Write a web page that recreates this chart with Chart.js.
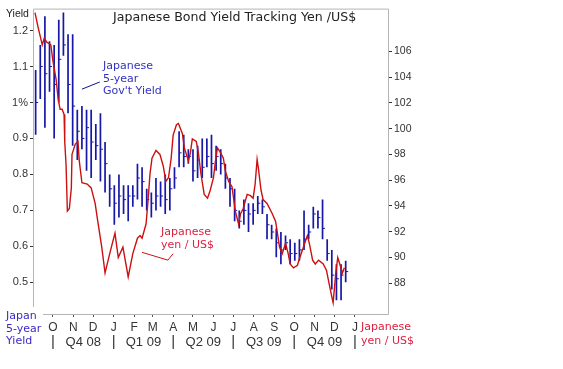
<!DOCTYPE html>
<html>
<head>
<meta charset="utf-8">
<script src="https://cdn.jsdelivr.net/npm/chart.js@4.4.1/dist/chart.umd.min.js"></script>
<style>
html,body{margin:0;padding:0;background:#fff;}
#wrap{width:563px;height:369px;position:relative;}
</style>
</head>
<body>
<div id="wrap"><canvas id="c" width="563" height="369"></canvas></div>
<script>
// ---------- DATA ----------
const weekDates = ['2008-09-05','2008-09-12','2008-09-19','2008-09-26','2008-10-03','2008-10-10','2008-10-17','2008-10-24','2008-10-31','2008-11-07','2008-11-14','2008-11-21','2008-11-28','2008-12-05','2008-12-12','2008-12-19','2008-12-26',
'2009-01-02','2009-01-09','2009-01-16','2009-01-23','2009-01-30','2009-02-06','2009-02-13','2009-02-20','2009-02-27','2009-03-06','2009-03-13','2009-03-20','2009-03-27','2009-04-03','2009-04-10','2009-04-17','2009-04-24',
'2009-05-01','2009-05-08','2009-05-15','2009-05-22','2009-05-29','2009-06-05','2009-06-12','2009-06-19','2009-06-26','2009-07-03','2009-07-10','2009-07-17','2009-07-24','2009-07-31','2009-08-07','2009-08-14','2009-08-21','2009-08-28',
'2009-09-04','2009-09-11','2009-09-18','2009-09-25','2009-10-02','2009-10-09','2009-10-16','2009-10-23','2009-10-30','2009-11-06','2009-11-13','2009-11-20','2009-11-27','2009-12-04','2009-12-11','2009-12-18'];
const yieldHigh = [1.09,1.16,1.24,1.17,1.16,1.23,1.25,1.19,1.19,0.98,0.99,0.98,0.98,0.94,0.97,0.89,0.80,
0.77,0.80,0.77,0.77,0.77,0.83,0.82,0.76,0.75,0.79,0.78,0.80,0.79,0.82,0.92,0.91,0.87,
0.87,0.88,0.90,0.90,0.91,0.88,0.87,0.83,0.79,0.76,0.70,0.73,0.72,0.72,0.74,0.73,0.69,0.66,
0.65,0.64,0.63,0.62,0.61,0.62,0.70,0.66,0.71,0.70,0.73,0.62,0.59,0.55,0.55,0.56];
const yieldLow = [0.91,1.01,0.93,1.03,0.90,1.00,1.13,0.97,0.88,0.84,0.87,0.81,0.79,0.84,0.78,0.75,0.71,
0.66,0.68,0.69,0.67,0.71,0.73,0.71,0.70,0.68,0.70,0.71,0.69,0.70,0.76,0.82,0.82,0.83,
0.78,0.79,0.79,0.82,0.79,0.81,0.80,0.76,0.71,0.67,0.65,0.66,0.64,0.66,0.69,0.69,0.62,0.62,
0.57,0.55,0.59,0.55,0.56,0.56,0.59,0.62,0.65,0.65,0.62,0.56,0.48,0.45,0.45,0.50];
const yieldClose = [1.00,1.10,1.08,1.10,1.05,1.12,1.16,1.05,0.99,0.92,0.90,0.93,0.89,0.88,0.87,0.83,0.76,
0.72,0.74,0.73,0.74,0.74,0.79,0.78,0.73,0.72,0.74,0.74,0.73,0.76,0.79,0.86,0.85,0.85,
0.81,0.84,0.82,0.85,0.83,0.85,0.83,0.79,0.76,0.70,0.67,0.70,0.69,0.70,0.72,0.71,0.66,0.64,
0.61,0.59,0.61,0.58,0.58,0.59,0.62,0.64,0.69,0.68,0.65,0.58,0.52,0.51,0.52,0.53];
// yen/US$ line: day offset from 2008-09-01 and value
const yenDay = [3,8,14,17,21,27,30,35,38,41,44,47,48,50,52,55,58,59,64,68,
70,74,82,88,94,98,104,109,117,124,129,136,144,151,158,162,165,171,174,177,
180,186,192,197,201,205,209,212,217,220,226,229,235,238,241,247,250,254,259,264,
268,273,276,279,283,288,291,296,301,306,311,314,318,324,329,333,336,339,341,345,
348,354,362,367,370,373,377,382,386,389,394,400,403,409,415,418,423,427,432,439,
444,447,451,454,458,461,464,468,471];
const yenValue = [109.0,107.8,106.5,107.0,106.7,106.5,105.3,103.8,102.3,101.5,101.5,101.1,99.0,97.2,93.6,93.8,95.4,98.0,98.8,99.0,
97.5,95.8,95.7,95.4,94.2,92.8,90.8,88.8,90.5,91.9,90.0,90.8,88.5,90.3,91.5,91.7,91.5,92.6,94.4,96.5,
97.7,98.3,98.0,97.1,95.9,96.2,97.7,99.5,100.3,100.4,99.6,98.5,97.5,98.1,99.2,99.0,98.2,96.5,94.9,94.6,
95.2,96.2,97.5,98.5,98.2,97.7,96.7,95.9,95.5,93.6,92.6,93.4,93.8,94.9,94.8,94.6,95.7,97.6,96.9,95.2,
94.5,94.2,93.4,92.8,91.8,90.8,90.3,91.1,90.3,89.5,89.2,89.4,89.9,90.8,91.7,91.1,89.8,89.5,89.8,89.5,
89.0,88.2,87.2,86.5,88.8,90.0,89.5,88.8,89.2];
const monthTickDates = ['2008-10-01','2008-11-01','2008-12-01','2009-01-01','2009-02-01','2009-03-01','2009-04-01','2009-05-01','2009-06-01','2009-07-01','2009-08-01','2009-09-01','2009-10-01','2009-11-01','2009-12-01','2010-01-01'];
const monthLabels = ['O','N','D','J','F','M','A','M','J','J','A','S','O','N','D','J'];
const quarterStarts = ['2008-10-01','2009-01-01','2009-04-01','2009-07-01','2009-10-01','2010-01-01'];
const quarterLabels = ['Q4 08','Q1 09','Q2 09','Q3 09','Q4 09'];
const yieldTicks = [0.5,0.6,0.7,0.8,0.9,1.0,1.1,1.2];
const yieldTickLabels = ['0.5','0.6','0.7','0.8','0.9','1%','1.1','1.2'];
const yenTicks = [88,90,92,94,96,98,100,102,104,106];

// ---------- helpers ----------
const ORIGIN = Date.UTC(2008,8,1);
function dayOf(s){const p=s.split('-').map(Number);return (Date.UTC(p[0],p[1]-1,p[2])-ORIGIN)/86400000;}

const barData = weekDates.map((d,i)=>({x:dayOf(d), y:[yieldLow[i], yieldHigh[i]]}));
const closeData = weekDates.map((d,i)=>({x:dayOf(d), y:yieldClose[i]}));
const yenData = yenDay.map((d,i)=>({x:d, y:yenValue[i]}));

const BLUE = '#1818a8';
const RED = '#cc1010';

const decor = {
  id:'decor',
  afterDraw(chart){
    const ctx = chart.ctx, a = chart.chartArea;
    const xs = chart.scales.x, ys = chart.scales.y, y2 = chart.scales.y2;
    ctx.save();
    // frame
    ctx.strokeStyle = '#b4b4b4'; ctx.lineWidth = 1;
    ctx.beginPath();
    ctx.moveTo(a.left+0.5, a.bottom-7); ctx.lineTo(a.left+0.5, a.top+0.5);
    ctx.lineTo(a.right+0.5, a.top+0.5); ctx.lineTo(a.right+0.5, a.bottom+0.5);
    ctx.lineTo(a.left+10, a.bottom+0.5);
    ctx.stroke();
    // callout lines
    ctx.strokeStyle = '#10108a'; ctx.lineWidth = 1;
    ctx.beginPath();
    ctx.moveTo(xs.getPixelForValue(74), ys.getPixelForValue(1.037));
    ctx.lineTo(xs.getPixelForValue(101), ys.getPixelForValue(1.057));
    ctx.stroke();
    ctx.strokeStyle = RED;
    ctx.beginPath();
    ctx.moveTo(xs.getPixelForValue(165), y2.getPixelForValue(90.4));
    ctx.lineTo(xs.getPixelForValue(204), y2.getPixelForValue(89.8));
    ctx.lineTo(xs.getPixelForValue(212), y2.getPixelForValue(90.3));
    ctx.stroke();
    // texts
    ctx.textBaseline = 'middle';
    ctx.textAlign = 'left';
    ctx.font = '12.6px "DejaVu Sans"';
    ctx.fillStyle = '#222';
    ctx.fillText('Japanese Bond Yield Tracking Yen /US$', 113, 18);
    ctx.font = '10.5px "Liberation Sans"';
    ctx.fillText('Yield', 6, 14);
    ctx.font = '11px "DejaVu Sans"';
    ctx.fillStyle = '#3232c0';
    ctx.fillText('Japanese', 103, 66);
    ctx.fillText('5-year', 103, 79);
    ctx.fillText("Gov't Yield", 103, 91);
    ctx.fillStyle = '#3a28c8';
    ctx.fillText('Japan', 6, 316);
    ctx.fillText('5-year', 6, 329);
    ctx.fillText('Yield', 6, 341);
    ctx.fillStyle = '#dc2040';
    ctx.fillText('Japanese', 161, 232);
    ctx.fillText('yen / US$', 161, 245);
    ctx.fillText('Japanese', 361, 327);
    ctx.fillText('yen / US$', 361, 341);
    // quarter row
    ctx.fillStyle = '#333';
    ctx.textAlign = 'center';
    ctx.font = '13px "Liberation Sans"';
    const qp = quarterStarts.map(s=>xs.getPixelForValue(dayOf(s)));
    for(let i=0;i<quarterLabels.length;i++){
      ctx.fillText(quarterLabels[i], (qp[i]+qp[i+1])/2, 342);
    }
    ctx.font = '15px "Liberation Sans"';
    qp.forEach(p=>ctx.fillText('|', p, 342));
    ctx.restore();
  }
};

new Chart(document.getElementById('c'), {
  type:'bar',
  data:{
    datasets:[
      {type:'bar', data:barData, backgroundColor:BLUE, borderWidth:0, barThickness:1.7, inflateAmount:0, borderSkipped:false, yAxisID:'y', xAxisID:'x', order:2},
      {type:'line', data:closeData, showLine:false, pointStyle:'dash', pointRadius:2.5, pointBorderColor:BLUE, pointBorderWidth:1, pointBackgroundColor:BLUE, yAxisID:'y', order:1},
      {type:'line', data:yenData, borderColor:RED, borderWidth:1.4, pointRadius:0, tension:0, yAxisID:'y2', order:0}
    ]
  },
  options:{
    responsive:false, animation:false, events:[],
    layout:{padding:{top:6,left:0,right:0,bottom:0}},
    plugins:{legend:{display:false}, tooltip:{enabled:false}, title:{display:false}},
    scales:{
      x:{type:'linear', min:0, max:537, offset:false,
        grid:{offset:false, drawOnChartArea:false, drawTicks:true, tickLength:3, color:'#555'},
        border:{display:false},
        afterBuildTicks:(s)=>{s.ticks = monthTickDates.map(d=>({value:dayOf(d)}));},
        afterFit:(s)=>{s.height = 55;},
        ticks:{autoSkip:false, maxRotation:0, padding:3, color:'#333', font:{family:'Liberation Sans', size:12},
          callback:(v,i)=>monthLabels[i]}
      },
      y:{type:'linear', position:'left', min:0.412, max:1.261,
        grid:{drawOnChartArea:false, drawTicks:true, tickLength:3, color:'#333'},
        border:{display:false},
        afterBuildTicks:(s)=>{s.ticks = yieldTicks.map(v=>({value:v}));},
        afterFit:(s)=>{s.width = 33;},
        ticks:{padding:2, color:'#333', font:{family:'Liberation Sans', size:11},
          callback:(v,i)=>yieldTickLabels[i]}
      },
      y2:{type:'linear', position:'right', min:85.62, max:109.31,
        grid:{drawOnChartArea:false, drawTicks:true, tickLength:4, color:'#333'},
        border:{display:false},
        afterBuildTicks:(s)=>{s.ticks = yenTicks.map(v=>({value:v}));},
        afterFit:(s)=>{s.width = 175;},
        ticks:{padding:2, color:'#333', font:{family:'Liberation Sans', size:10.5},
          callback:(v)=>String(v)}
      }
    }
  },
  plugins:[decor]
});
</script>
</body>
</html>
